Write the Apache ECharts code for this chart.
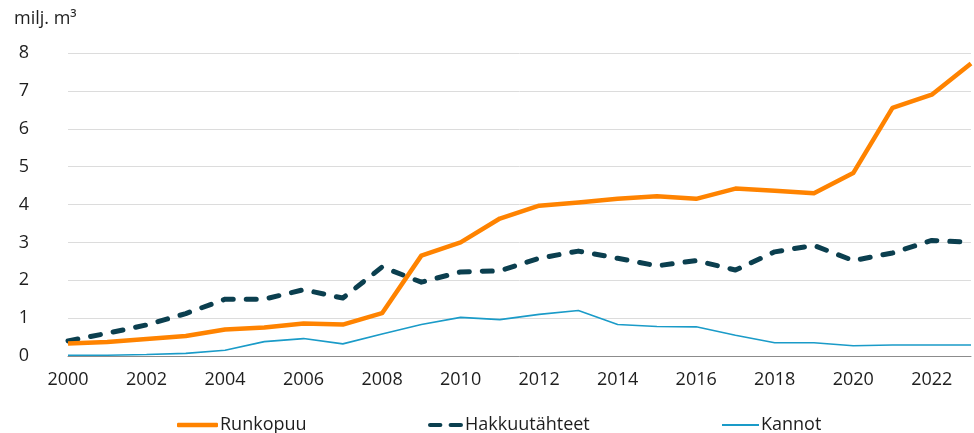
<!DOCTYPE html>
<html><head><meta charset="utf-8">
<script src="https://cdn.jsdelivr.net/npm/echarts@6/dist/echarts.min.js"></script>
<style>html,body{margin:0;padding:0;background:#fff}#c{width:974px;height:433px}</style>
</head><body><div id="c"></div>
<script>
const years = [];
for (let y = 2000; y <= 2023; y++) years.push(String(y));
const runkopuu = [0.33,0.37,0.45,0.53,0.70,0.75,0.86,0.83,1.13,2.65,3.00,3.63,3.97,4.05,4.15,4.22,4.15,4.42,4.36,4.30,4.83,6.55,6.90,7.72];
const hakkuutahteet = [0.40,0.60,0.82,1.12,1.50,1.50,1.75,1.53,2.35,1.95,2.22,2.25,2.58,2.77,2.58,2.38,2.52,2.27,2.75,2.92,2.52,2.72,3.05,3.00];
const kannot = [0.02,0.02,0.04,0.07,0.15,0.38,0.46,0.32,0.58,0.83,1.02,0.96,1.10,1.20,0.83,0.78,0.77,0.55,0.35,0.35,0.27,0.29,0.29,0.29];
const names = ['Runkopuu','Hakkuutähteet','Kannot'];
const colors = ['#ff8300','#0b3f4f','#1a9bc8'];
const font = '"Open Sans", "Noto Sans", sans-serif';
const chart = echarts.init(document.getElementById('c'));
const txt = {fontFamily: font, fontSize: 18, color: '#1e1e1e'};
const legendBase = {top: 411, itemGap: 0, textStyle: Object.assign({}, txt, {padding: [0,0,0,-3]})};
chart.setOption({
  animation: false,
  textStyle: {fontFamily: font},
  grid: {left: 68, right: 3, top: 53, bottom: 77},
  title: {text: 'milj. m³', left: 14, top: 10, padding: 0,
    textStyle: Object.assign({}, txt, {fontWeight: 'normal'})},
  legend: [
    Object.assign({}, legendBase, {left: 172, itemWidth: 41, itemHeight: 4.5,
      data: [{name: names[0], icon: 'roundRect'}]}),
    Object.assign({}, legendBase, {left: 423, itemWidth: 35, itemHeight: 5,
      data: [{name: names[1], icon: 'path://M2,0h10a2,2 0 0 1 0,4h-10a2,2 0 0 1 0,-4z M22,0h10a2,2 0 0 1 0,4h-10a2,2 0 0 1 0,-4z'}]}),
    Object.assign({}, legendBase, {left: 717, itemWidth: 37, itemHeight: 2,
      data: [{name: names[2], icon: 'rect'}]})
  ],
  xAxis: {type: 'category', data: years, boundaryGap: false,
    axisLine: {lineStyle: {color: '#8c8c8c', width: 1}},
    axisTick: {show: false},
    axisLabel: Object.assign({interval: 1, margin: 15}, txt)},
  yAxis: {type: 'value', min: 0, max: 8, interval: 1,
    axisLine: {show: false}, axisTick: {show: false},
    splitLine: {lineStyle: {color: '#dcdcdc', width: 1}},
    axisLabel: Object.assign({margin: 44, align: 'center'}, txt)},
  series: [
    {name: names[0], type: 'line', data: runkopuu, symbol: 'none', z: 3,
     itemStyle: {color: colors[0]}, lineStyle: {color: colors[0], width: 4.5, join: 'round'}},
    {name: names[1], type: 'line', data: hakkuutahteet, symbol: 'none', z: 2,
     itemStyle: {color: colors[1]}, lineStyle: {color: colors[1], width: 5, type: [10, 13], cap: 'round', join: 'round'}},
    {name: names[2], type: 'line', data: kannot, symbol: 'none', z: 1,
     itemStyle: {color: colors[2]}, lineStyle: {color: colors[2], width: 1.6}}
  ]
});
</script></body></html>
